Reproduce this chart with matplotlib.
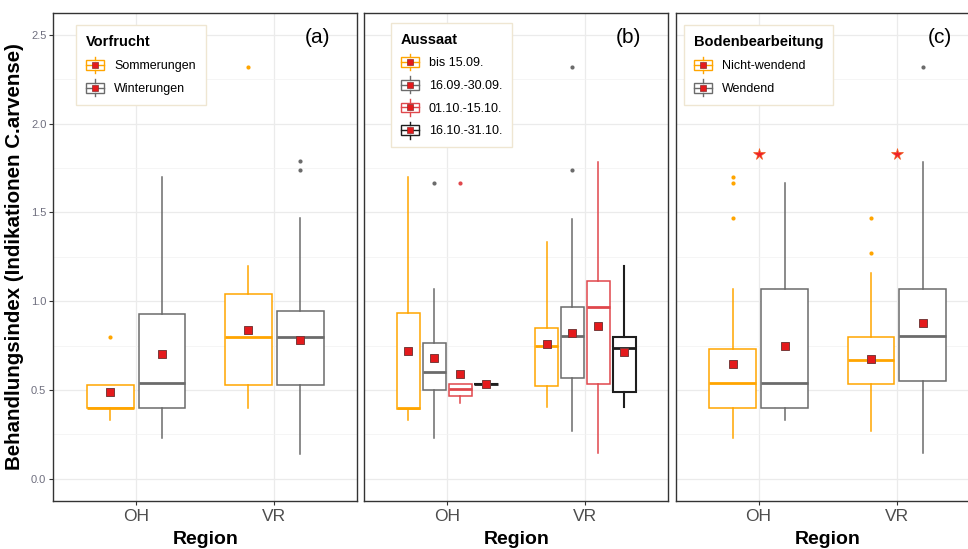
import matplotlib
matplotlib.use('Agg')
import matplotlib.pyplot as plt
from matplotlib.legend_handler import HandlerBase
from matplotlib.lines import Line2D
from matplotlib.patches import Rectangle, Patch
from matplotlib.ticker import MultipleLocator

plt.rcParams['font.family'] = ['Liberation Sans', 'DejaVu Sans']

regions = ['OH', 'VR']

# each group: one value per region -> (q1, median, q3, whisker low, whisker high, mean, outliers)
# panel (a) Vorfrucht
vorfrucht = ['Sommerungen', 'Winterungen']
a_q1 = [[0.40, 0.53], [0.40, 0.53]]
a_med = [[0.40, 0.80], [0.54, 0.80]]
a_q3 = [[0.53, 1.04], [0.93, 0.945]]
a_lo = [[0.33, 0.40], [0.23, 0.14]]
a_hi = [[0.53, 1.20], [1.70, 1.47]]
a_mean = [[0.49, 0.84], [0.70, 0.78]]
a_out = [[[0.80], [2.32]], [[], [1.74, 1.79]]]

# panel (b) Aussaat
aussaat = ['bis 15.09.', '16.09.-30.09.', '01.10.-15.10.', '16.10.-31.10.']
b_q1 = [[0.395, 0.523], [0.50, 0.566], [0.468, 0.533], [0.531, 0.491]]
b_med = [[0.40, 0.748], [0.60, 0.803], [0.507, 0.967], [0.533, 0.734]]
b_q3 = [[0.932, 0.849], [0.764, 0.965], [0.533, 1.113], [0.535, 0.799]]
b_lo = [[0.33, 0.403], [0.227, 0.27], [0.428, 0.142], [0.531, 0.403]]
b_hi = [[1.697, 1.332], [1.07, 1.464], [0.533, 1.786], [0.535, 1.198]]
b_mean = [[0.72, 0.758], [0.681, 0.819], [0.59, 0.862], [0.533, 0.714]]
b_out = [[[], []], [[1.668], [1.737, 2.317]], [[1.668], []], [[], []]]

# panel (c) Bodenbearbeitung
boden = ['Nicht-wendend', 'Wendend']
c_q1 = [[0.40, 0.533], [0.40, 0.551]]
c_med = [[0.537, 0.671], [0.537, 0.803]]
c_q3 = [[0.728, 0.799], [1.07, 1.07]]
c_lo = [[0.227, 0.27], [0.33, 0.142]]
c_hi = [[1.07, 1.158], [1.668, 1.786]]
c_mean = [[0.645, 0.675], [0.748, 0.878]]
c_out = [[[1.47, 1.668, 1.701], [1.271, 1.47]], [[], [2.317]]]
c_signif = [1.83, 1.83]

orange = '#FFA500'
grey = '#6B6B6B'
red = '#E0474C'
black = '#1E1E1E'
mean_red = '#E41A1C'


class BoxHandler(HandlerBase):
    def create_artists(self, legend, orig_handle, xdescent, ydescent,
                       width, height, fontsize, trans):
        col = orig_handle.get_edgecolor()
        cx = -xdescent + width / 2
        cy = -ydescent + height / 2
        bw, bh = width, height * 0.7
        box = Rectangle((cx - bw / 2, cy - bh / 2), bw, bh, facecolor='white',
                        edgecolor=col, lw=1.0, transform=trans)
        wl = Line2D([cx, cx], [cy + bh / 2, cy + height * 0.6], color=col, lw=1.0, transform=trans)
        wl2 = Line2D([cx, cx], [cy - bh / 2, cy - height * 0.6], color=col, lw=1.0, transform=trans)
        med = Line2D([cx - bw / 2, cx + bw / 2], [cy, cy], color=col, lw=1.0, transform=trans)
        mk = Line2D([cx], [cy], marker='s', markersize=4.2, color=mean_red,
                    markeredgecolor='#8a2a2a', markeredgewidth=0.5, transform=trans)
        return [box, wl, wl2, med, mk]


def draw_panel(ax, names, colors, q1, med, q3, lo, hi, mean, out, title, letter, lpos):
    n = len(names)
    step = 0.75 / n
    for g in range(n):
        stats = []
        pos = []
        for r in range(len(regions)):
            stats.append(dict(q1=q1[g][r], med=med[g][r], q3=q3[g][r],
                              whislo=lo[g][r], whishi=hi[g][r],
                              mean=mean[g][r], fliers=out[g][r]))
            pos.append(r + 1 + (g - (n - 1) / 2) * step)
        c = colors[g]
        lw = 1.5 if c == black else 1.1
        ax.bxp(stats, positions=pos, widths=step * 0.9, showcaps=False,
               showmeans=True, patch_artist=True, manage_ticks=False,
               boxprops=dict(facecolor='white', edgecolor=c, lw=lw),
               whiskerprops=dict(color=c, lw=lw),
               medianprops=dict(color=c, lw=2.0),
               meanprops=dict(marker='s', markersize=5.4, markerfacecolor=mean_red,
                              markeredgecolor='#7a3a3a', markeredgewidth=0.7),
               flierprops=dict(marker='o', markersize=3, markerfacecolor=c,
                               markeredgecolor='none'),
               zorder=3)
    ax.set_xlim(0.4, 2.6)
    ax.set_ylim(-0.124, 2.622)
    ax.set_xticks([1, 2])
    ax.set_xticklabels(regions, fontsize=12.5, color='#4D4D4D')
    ax.yaxis.set_major_locator(MultipleLocator(0.5))
    ax.yaxis.set_minor_locator(MultipleLocator(0.25))
    ax.grid(which='major', color='#EBEBEB', lw=0.9, zorder=0)
    ax.grid(which='minor', axis='y', color='#F2F2F2', lw=0.5, zorder=0)
    ax.set_axisbelow(True)
    for s in ax.spines.values():
        s.set_color('#333333')
        s.set_linewidth(1.0)
    ax.tick_params(axis='x', length=3, color='#333333', pad=3)
    ax.tick_params(axis='y', which='minor', length=0)
    ax.set_xlabel('Region', fontsize=14, fontweight='bold', labelpad=5)
    ax.text(0.87, 0.951, letter, transform=ax.transAxes, fontsize=15,
            ha='center', va='center')
    handles = [Patch(facecolor='white', edgecolor=c) for c in colors]
    leg = ax.legend(handles, names, handler_map={Patch: BoxHandler()},
                    title=title, loc='upper left', bbox_to_anchor=lpos,
                    borderaxespad=0, fancybox=False, framealpha=1,
                    edgecolor='#EFE6D2', fontsize=9, handlelength=1.45,
                    handleheight=1.35, labelspacing=0.68, handletextpad=0.8,
                    borderpad=0.8, alignment='left',
                    title_fontproperties=dict(weight='bold', size=10.5))
    leg.get_frame().set_linewidth(1.0)
    leg.set_zorder(5)


fig = plt.figure(figsize=(9.68, 5.49), dpi=100)
W, H = 968.0, 549.0
top_px, bot_px = 13.3, 500.7
bottom = 1 - bot_px / H
height = (bot_px - top_px) / H
width = 304.0 / W
ax_a = fig.add_axes([53.3 / W, bottom, width, height])
ax_b = fig.add_axes([364.3 / W, bottom, width, height])
ax_c = fig.add_axes([675.7 / W, bottom, width, height])

draw_panel(ax_a, vorfrucht, [orange, grey], a_q1, a_med, a_q3, a_lo, a_hi,
           a_mean, a_out, 'Vorfrucht', '(a)', (0.074, 0.975))
draw_panel(ax_b, aussaat, [orange, grey, red, black], b_q1, b_med, b_q3, b_lo,
           b_hi, b_mean, b_out, 'Aussaat', '(b)', (0.087, 0.981))
draw_panel(ax_c, boden, [orange, grey], c_q1, c_med, c_q3, c_lo, c_hi,
           c_mean, c_out, 'Bodenbearbeitung', '(c)', (0.027, 0.975))

ax_c.plot([1, 2], c_signif, linestyle='none', marker='*', markersize=8.5,
          color='#F0202A', markeredgecolor='#F06020', markeredgewidth=0.5, zorder=4)

ax_a.set_yticks([0.0, 0.5, 1.0, 1.5, 2.0, 2.5])
ax_a.set_yticklabels(['0.0', '0.5', '1.0', '1.5', '2.0', '2.5'])
ax_a.tick_params(axis='y', which='major', labelsize=8, labelcolor='#6F6F7F',
                 length=3, color='#333333', pad=2)
ax_a.set_ylabel('Behandlungsindex (Indikationen C.arvense)', fontsize=14.8,
                fontweight='bold', labelpad=5)
for ax in (ax_b, ax_c):
    ax.tick_params(axis='y', which='both', left=False, labelleft=False)

fig.savefig('out.png', dpi=100)
